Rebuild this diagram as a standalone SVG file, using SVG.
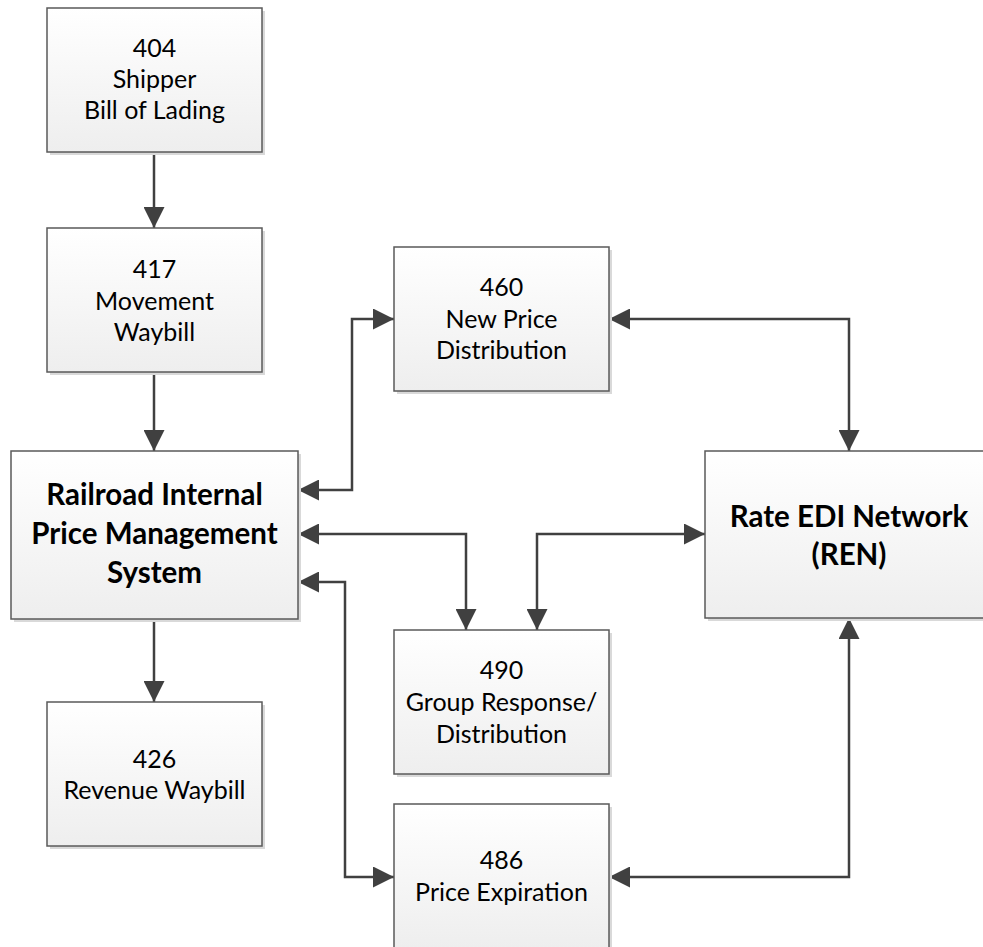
<svg xmlns="http://www.w3.org/2000/svg" width="983" height="947" viewBox="0 0 983 947">
  <defs>
    <linearGradient id="boxfill" x1="0" y1="0" x2="0" y2="1">
      <stop offset="0" stop-color="#ffffff"/>
      <stop offset="1" stop-color="#eeeeee"/>
    </linearGradient>
    <marker id="arrow" viewBox="0 0 21 21" refX="21" refY="10.5" markerWidth="21" markerHeight="21" markerUnits="userSpaceOnUse" orient="auto-start-reverse">
      <path d="M0,0 L21,10.5 L0,21 Z" fill="#404040"/>
    </marker>
  </defs>
  <style>
    .shadow { fill: #d9d9d9; }
    .box { fill: url(#boxfill); stroke: #5a5a5a; stroke-width: 1.5; }
    .lbl { font-family: Lato, "Liberation Sans", sans-serif; font-size: 25px; fill: #000000; text-anchor: middle; }
    .bold { font-family: Lato, "Liberation Sans", sans-serif; font-size: 29.5px; font-weight: bold; fill: #000000; text-anchor: middle; }
    .conn { fill: none; stroke: #404040; stroke-width: 2.5; }
    .one { marker-end: url(#arrow); }
    .two { marker-start: url(#arrow); marker-end: url(#arrow); }
  </style>
  <rect width="983" height="947" fill="#ffffff"/>

  <g id="connectors">
    <path class="conn one" d="M154,152 V228"/>
    <path class="conn one" d="M154,372 V451"/>
    <path class="conn one" d="M154,619 V702"/>
    <path class="conn two" d="M298,490 H352 V319 H394"/>
    <path class="conn two" d="M609,319 H849 V451"/>
    <path class="conn two" d="M298,534 H466 V630"/>
    <path class="conn two" d="M705,534 H537 V630"/>
    <path class="conn two" d="M298,582 H345 V877 H394"/>
    <path class="conn two" d="M609,877 H849 V618"/>
  </g>

  <g id="n404">
    <rect class="shadow" x="50" y="11" width="215" height="144"/>
    <rect class="box" x="47" y="8" width="215" height="144"/>
    <text class="lbl" x="154.5" y="57">404</text>
    <text class="lbl" x="154.5" y="88">Shipper</text>
    <text class="lbl" x="154.5" y="119">Bill of Lading</text>
  </g>

  <g id="n417">
    <rect class="shadow" x="50" y="231" width="215" height="144"/>
    <rect class="box" x="47" y="228" width="215" height="144"/>
    <text class="lbl" x="154.5" y="278">417</text>
    <text class="lbl" x="154.5" y="310">Movement</text>
    <text class="lbl" x="154.5" y="341">Waybill</text>
  </g>

  <g id="ripms">
    <rect class="shadow" x="14" y="454" width="287" height="168"/>
    <rect class="box" x="11" y="451" width="287" height="168"/>
    <text class="bold" x="154.5" y="505">Railroad Internal</text>
    <text class="bold" x="154.5" y="544">Price Management</text>
    <text class="bold" x="154.5" y="583">System</text>
  </g>

  <g id="n426">
    <rect class="shadow" x="50" y="705" width="215" height="144"/>
    <rect class="box" x="47" y="702" width="215" height="144"/>
    <text class="lbl" x="154.5" y="768">426</text>
    <text class="lbl" x="154.5" y="799">Revenue Waybill</text>
  </g>

  <g id="n460">
    <rect class="shadow" x="397" y="250" width="215" height="144"/>
    <rect class="box" x="394" y="247" width="215" height="144"/>
    <text class="lbl" x="501.5" y="296">460</text>
    <text class="lbl" x="501.5" y="328">New Price</text>
    <text class="lbl" x="501.5" y="359">Distribution</text>
  </g>

  <g id="ren">
    <rect class="shadow" x="708" y="454" width="288" height="167"/>
    <rect class="box" x="705" y="451" width="288" height="167"/>
    <text class="bold" x="849" y="527">Rate EDI Network</text>
    <text class="bold" x="849" y="565">(REN)</text>
  </g>

  <g id="n490">
    <rect class="shadow" x="397" y="633" width="215" height="144"/>
    <rect class="box" x="394" y="630" width="215" height="144"/>
    <text class="lbl" x="501.5" y="679">490</text>
    <text class="lbl" x="501.5" y="711">Group Response/</text>
    <text class="lbl" x="501.5" y="743">Distribution</text>
  </g>

  <g id="n486">
    <rect class="shadow" x="397" y="807" width="215" height="144"/>
    <rect class="box" x="394" y="804" width="215" height="144"/>
    <text class="lbl" x="501.5" y="869">486</text>
    <text class="lbl" x="501.5" y="901">Price Expiration</text>
  </g>
</svg>
